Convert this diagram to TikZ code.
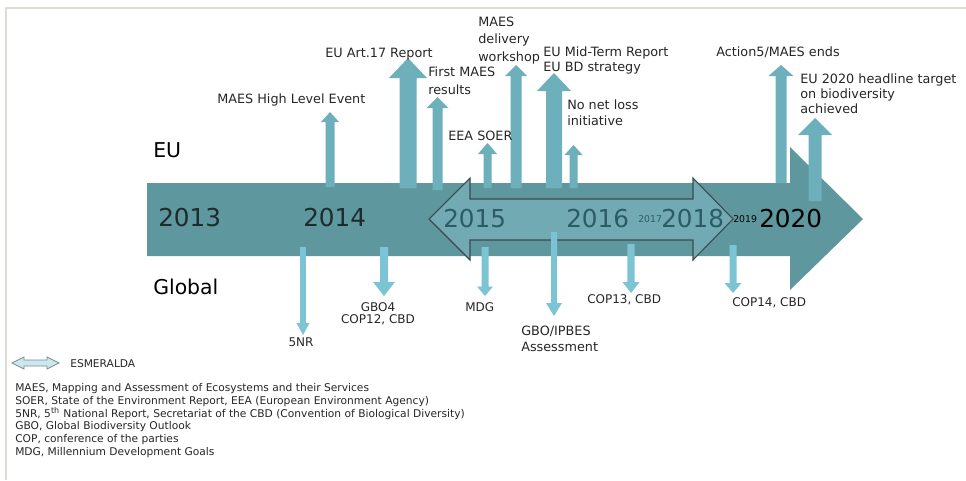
\documentclass[tikz,border=0pt]{standalone}
\usepackage{fontspec}
\setmainfont{DejaVu Sans}
\usepackage{xcolor}
\usepackage{tikz}

\definecolor{bandteal}{HTML}{5F979F}
\definecolor{esmfill}{HTML}{72AAB3}
\definecolor{esmline}{HTML}{3A4A4D}
\definecolor{upteal}{HTML}{6DAFBA}
\definecolor{downcyan}{HTML}{7CC4D4}
\definecolor{yearteal}{HTML}{2B5C63}
\definecolor{yeardark}{HTML}{1E2B2D}
\definecolor{framegray}{HTML}{DDDDD5}
\definecolor{legfill}{HTML}{CFE6EC}
\definecolor{legline}{HTML}{6D8F96}
\definecolor{labelgray}{HTML}{262626}

% up arrow: x, tip y, foot y, half shaft, half head, head length
\newcommand{\euarrow}[6]{%
\fill[upteal] (#1-#4,#3) -- (#1-#4,#2+#6) -- (#1-#5,#2+#6) -- (#1,#2) -- (#1+#5,#2+#6) -- (#1+#4,#2+#6) -- (#1+#4,#3) -- cycle;}
% down arrow: x, foot y, tip y, half shaft, half head, head length
\newcommand{\globarrow}[6]{%
\fill[downcyan] (#1-#4,#2) -- (#1-#4,#3-#6) -- (#1-#5,#3-#6) -- (#1,#3) -- (#1+#5,#3-#6) -- (#1+#4,#3-#6) -- (#1+#4,#2) -- cycle;}

\begin{document}
\begin{tikzpicture}[x=0.75pt,y=0.75pt,yscale=-1,xscale=1,
  lbl/.style={anchor=base west,inner sep=0pt,align=left,text=labelgray,font=\fontsize{9.6}{12.5}\selectfont},
  smalllbl/.style={lbl,font=\fontsize{9}{9}\selectfont},
  region/.style={anchor=base west,inner sep=0pt,text=black,font=\fontsize{15.3}{18}\selectfont},
  year/.style={anchor=base west,inner sep=0pt,font=\fontsize{18.5}{20}\selectfont},
  minyear/.style={anchor=base west,inner sep=0pt,font=\fontsize{7}{8}\selectfont}]
\useasboundingbox (0,0) rectangle (966,480);

%frame
\draw[framegray,line width=1.5] (6,480) -- (6,8) -- (966,8);

%main time arrow
\fill[bandteal] (147,183) -- (790,183) -- (790,147) -- (863,219) -- (790,290) -- (790,256) -- (147,256) -- cycle;

%EU events
\euarrow{330}{112}{187}{4.5}{9}{10}
\euarrow{408}{58}{188}{8.5}{19}{20}
\euarrow{437.5}{97}{190}{5}{11}{11}
\euarrow{487.5}{143}{188}{4}{9.5}{11}
\euarrow{516}{65}{188}{5.5}{11}{11}
\euarrow{554}{73}{188}{8}{17}{18}
\euarrow{573.5}{145}{188}{4}{9}{10}
\euarrow{781}{65}{183}{5.5}{12.5}{11}
\euarrow{815}{118}{201}{6.5}{17}{17}

%ESMERALDA
\draw[esmline,fill=esmfill,line width=0.8] (429,219) -- (470,178) -- (470,199) -- (693,199) -- (693,178) -- (733,219) -- (693,260) -- (693,240) -- (470,240) -- (470,260) -- cycle;

%Global events
\globarrow{303}{247}{335}{2.8}{6.5}{12}
\globarrow{384}{247}{296}{4}{11}{14}
\globarrow{485}{247}{296}{3.5}{8}{9.5}
\globarrow{554}{232}{316}{3}{8}{13}
\globarrow{631}{244}{293}{3.7}{8.5}{11}
\globarrow{733}{245}{293}{3.5}{8.5}{10}

% Years
\node[year,text=yeardark] (y2013) at (158,226) {2013};
\node[year,text=yeardark] (y2014) at (303,226) {2014};
\node[year,text=yearteal] (y2015) at (443,227) {2015};
\node[year,text=yearteal] (y2016) at (566,227) {2016};
\node[minyear,text=yearteal] (y2017) at (638,222) {2017};
\node[year,text=yearteal] (y2018) at (661,227) {2018};
\node[minyear,text=black] (y2019) at (733,222) {2019};
\node[year,text=black] (y2020) at (759,227) {2020};

% Text Node
\node[region] (eu) at (153,157) {EU};
% Text Node
\node[region] (global) at (153,294) {Global};

% Text Node
\node[lbl] (hlevent) at (217,103) {MAES High Level Event};
% Text Node
\node[lbl] (art17) at (325,57) {EU Art.17 Report};
% Text Node
\node[lbl,font=\fontsize{9.6}{13.5}\selectfont] (firstmaes) at (428,94) {First MAES\\results};
% Text Node
\node[lbl] (eeasoer) at (448,140) {EEA SOER};
% Text Node
\node[lbl,font=\fontsize{9.6}{13.1}\selectfont] (delivery) at (478,61) {MAES\\delivery\\workshop};
% Text Node
\node[lbl,font=\fontsize{9.6}{11.25}\selectfont] (midterm) at (543,71) {EU Mid-Term Report\\EU BD strategy};
% Text Node
\node[lbl,font=\fontsize{9.6}{12}\selectfont] (nonetloss) at (567,125) {No net loss\\initiative};
% Text Node
\node[lbl] (actionfive) at (716,56) {Action5/MAES ends};
% Text Node
\node[lbl,font=\fontsize{9.6}{11.25}\selectfont] (headline) at (800,113) {EU 2020 headline target\\on biodiversity\\achieved};

% Text Node
\node[smalllbl,anchor=base] (fivenr) at (301,346) {5NR};
% Text Node
\node[smalllbl,anchor=base,align=center] (gbofour) at (378,323) {GBO4\\COP12, CBD};
% Text Node
\node[smalllbl] (mdg) at (465,311) {MDG};
% Text Node
\node[lbl,font=\fontsize{9.6}{12}\selectfont] (ipbes) at (521,351) {GBO/IPBES\\Assessment};
% Text Node
\node[smalllbl] (copthirteen) at (587,303) {COP13, CBD};
% Text Node
\node[smalllbl] (copfourteen) at (732,306) {COP14, CBD};

%legend
\draw[legline,fill=legfill,line width=0.6] (12,363) -- (24,357) -- (24,360) -- (47,360) -- (47,357) -- (59,363) -- (47,369) -- (47,366) -- (24,366) -- (24,369) -- cycle;
% Text Node
\node[lbl,font=\fontsize{8}{9.5}\selectfont] (esmlabel) at (70,367) {ESMERALDA};
% Text Node
\node[lbl,font=\fontsize{8}{9.5}\selectfont] (abbrev) at (15,455) {MAES, Mapping and Assessment of Ecosystems and their Services\\SOER, State of the Environment Report, EEA (European Environment Agency)\\5NR, 5\textsuperscript{th} National Report, Secretariat of the CBD (Convention of Biological Diversity)\\GBO, Global Biodiversity Outlook\\COP, conference of the parties\\MDG, Millennium Development Goals};

\end{tikzpicture}
\end{document}
